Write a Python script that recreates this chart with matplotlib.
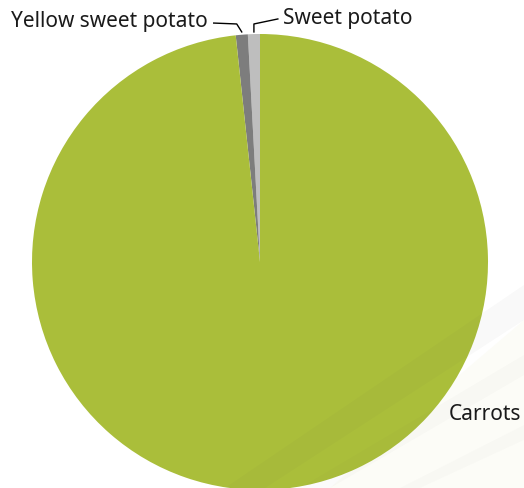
import numpy as np
import matplotlib
matplotlib.use("Agg")
import matplotlib.pyplot as plt
from matplotlib.patches import Polygon

# Data
labels = ["Sweet potato", "Yellow sweet potato", "Carrots"]
values = [0.85, 0.85, 98.3]
colors = ["#bebebe", "#7d7d7d", "#aabe3a"]

W, H = 524, 488
R_PX = 228
CX, CY = 260, 262  # pie centre in pixels (from top-left)

plt.rcParams['font.family'] = ['Noto Sans', 'DejaVu Sans']
fs = 15
tc = "#1a1a1a"

fig = plt.figure(figsize=(W / 100, H / 100), dpi=100)
ax = fig.add_axes([0, 0, 1, 1])

wedges, _ = ax.pie(values, colors=colors, startangle=90, counterclock=True,
                   radius=1.0, wedgeprops=dict(linewidth=0))

ax.set_xlim(-CX / R_PX, (W - CX) / R_PX)
ax.set_ylim(-(H - CY) / R_PX, CY / R_PX)
ax.set_aspect("equal")
ax.axis("off")


# faint background swooshes (lower right), in pixel coords
def px(pts):
    return [(x / W, 1 - y / H) for x, y in pts]

fig.patches.append(Polygon(px([(330, 488), (524, 488), (524, 320), (430, 400)]),
                           closed=True, transform=fig.transFigure,
                           facecolor="#f6f6e6", alpha=0.3, lw=0, zorder=-1))
for pts, al in [([(225, 488), (265, 488), (524, 320), (524, 285)], 0.035),
                ([(300, 488), (330, 488), (524, 375), (524, 355)], 0.025),
                ([(400, 488), (420, 488), (524, 440), (524, 425)], 0.02)]:
    ax.add_patch(Polygon(px(pts), closed=True, transform=fig.transFigure,
                         facecolor="#555555", alpha=al, lw=0, zorder=5))

# leader lines for the two small slices
mids = [np.deg2rad((w.theta1 + w.theta2) / 2) for w in wedges]

# Sweet potato (right side of the top)
x0 = np.cos(mids[0])
ax.plot([x0, x0, x0 + 0.105], [1.009, 1.044, 1.066], color="black", lw=1)
ax.text(x0 + 0.128, 1.068, labels[0], ha="left", va="center", fontsize=fs, color=tc)

# Yellow sweet potato (left)
x1 = np.cos(mids[1])
ax.plot([x1, x1 - 0.022, x1 - 0.123], [1.009, 1.044, 1.048], color="black", lw=1)
ax.text(x1 - 0.148, 1.056, labels[1], ha="right", va="center", fontsize=fs, color=tc)

# Carrots
ax.text(0.826, -0.668, labels[2], ha="left", va="center", fontsize=fs, color=tc)

fig.savefig("out.png", dpi=100)
